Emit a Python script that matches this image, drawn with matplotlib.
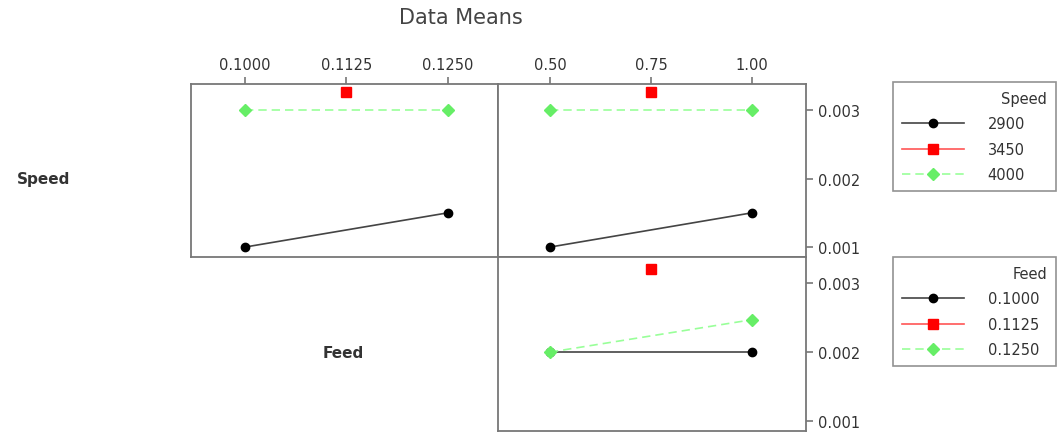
import numpy as np
import matplotlib
matplotlib.use("Agg")
import matplotlib.pyplot as plt

# factor levels
speed_levels = [2900, 3450, 4000]
feed_levels = [0.1000, 0.1125, 0.1250]
depth_levels = [0.50, 0.75, 1.00]

# data means (nan = no observation at that level)
speed_by_feed = {
    2900: [0.0010, np.nan, 0.0015],
    3450: [np.nan, 0.00326, np.nan],
    4000: [0.0030, np.nan, 0.0030],
}
speed_by_depth = {
    2900: [0.0010, np.nan, 0.0015],
    3450: [np.nan, 0.00326, np.nan],
    4000: [0.0030, np.nan, 0.0030],
}
feed_by_depth = {
    0.1000: [0.0020, np.nan, 0.0020],
    0.1125: [np.nan, 0.00321, np.nan],
    0.1250: [0.0020, np.nan, 0.00247],
}

styles = [
    dict(color="#444444", marker="o", markersize=6, markerfacecolor="black",
         markeredgecolor="black", linestyle="-", linewidth=1.2),
    dict(color="#ff5555", marker="s", markersize=7, markerfacecolor="#ff0000",
         markeredgecolor="#ff0000", linestyle="-", linewidth=1.2),
    dict(color="#99ff99", marker="D", markersize=6, markerfacecolor="#66ee66",
         markeredgecolor="#66ee66", linestyle=(0, (5, 3)), linewidth=1.2),
]

W, H = 1057, 435
def rect(x0, y0, x1, y1):
    return [x0 / W, 1 - y1 / H, (x1 - x0) / W, (y1 - y0) / H]

fig = plt.figure(figsize=(W / 100, H / 100), dpi=100)
txt = "#333333"
spine_c = "#777777"

def draw(ax, xs, table):
    handles = []
    for st, (lvl, vals) in zip(styles, table.items()):
        x = np.array(xs)
        y = np.array(vals)
        m = ~np.isnan(y)
        h, = ax.plot(x[m], y[m], **st)
        handles.append(h)
    for s in ax.spines.values():
        s.set_color(spine_c)
        s.set_linewidth(1.3)
    ax.set_ylim(0.000855, 0.00338)
    ax.tick_params(colors=spine_c, labelcolor=txt, labelsize=10.5, length=5, width=1.2)
    return handles

ax1 = fig.add_axes(rect(191, 85, 498, 258))
ax2 = fig.add_axes(rect(498, 85, 806, 258))
ax3 = fig.add_axes(rect(498, 258, 806, 432))

h_speed = draw(ax1, feed_levels, speed_by_feed)
draw(ax2, depth_levels, speed_by_depth)
h_feed = draw(ax3, depth_levels, feed_by_depth)

ax1.set_xlim(0.09335, 0.13116)
ax2.set_xlim(0.3713, 1.1337)
ax3.set_xlim(0.3713, 1.1337)

yt = [0.001, 0.002, 0.003]
for ax in (ax1, ax2):
    ax.xaxis.tick_top()
ax1.set_xticks(feed_levels, [f"{v:.4f}" for v in feed_levels])
ax2.set_xticks(depth_levels, [f"{v:.2f}" for v in depth_levels])
ax3.set_xticks([])
ax1.set_yticks([])
for ax in (ax2, ax3):
    ax.yaxis.tick_right()
    ax.set_yticks(yt, [f"{v:.3f}" for v in yt])

fig.text(461 / W, 1 - 18 / H, "Data Means", ha="center", va="center",
         fontsize=15, color="#444444")
fig.text(70 / W, 1 - 180 / H, "Speed", ha="right", va="center",
         fontsize=11, fontweight="bold", color=txt)
fig.text(343 / W, 1 - 354 / H, "Feed", ha="center", va="center",
         fontsize=11, fontweight="bold", color=txt)

leg_kw = dict(loc="upper left", frameon=True, fancybox=False, fontsize=10.5,
              title_fontsize=10.5, alignment="right", handlelength=4.3,
              handletextpad=1.6, labelspacing=0.72, borderpad=0.6,
              borderaxespad=0, mode="expand")
l1 = fig.legend(h_speed, [str(v) for v in speed_levels], title="Speed",
                bbox_to_anchor=(893 / W, 1 - 83 / H, 163 / W, 0), **leg_kw)
l2 = fig.legend(h_feed, [f"{v:.4f}" for v in feed_levels], title="Feed",
                bbox_to_anchor=(893 / W, 1 - 258 / H, 163 / W, 0), **leg_kw)
for lg in (l1, l2):
    lg.get_frame().set_edgecolor(spine_c)
    lg.get_frame().set_linewidth(1.2)
    lg.get_title().set_color(txt)
    for t in lg.get_texts():
        t.set_color(txt)

fig.savefig("out.png", dpi=100)
